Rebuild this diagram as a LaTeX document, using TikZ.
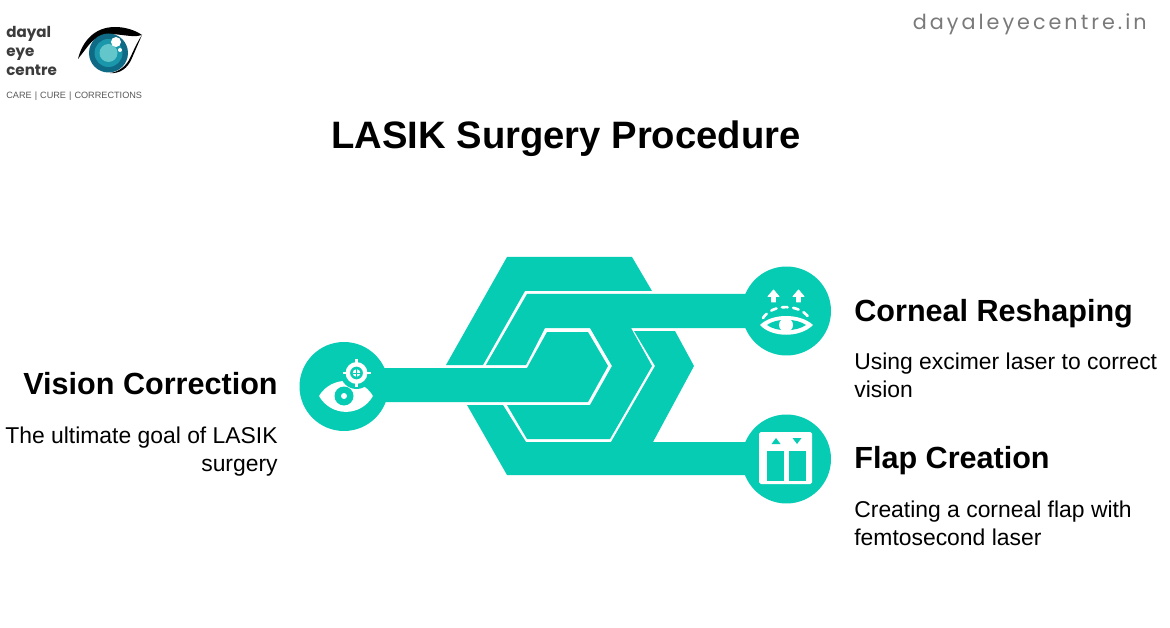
\documentclass[tikz,border=0pt]{standalone}
\usepackage{fontspec}
\setmainfont{Liberation Sans}
\newfontfamily\logofont{Poppins}
\newfontfamily\urlfont[LetterSpace=14.5]{Poppins}
\definecolor{tealfill}{HTML}{06CCB3}
\definecolor{irisdark}{HTML}{0F6A85}
\definecolor{irismid}{HTML}{1A97AB}
\definecolor{irislight}{HTML}{62C6CA}
\definecolor{logogray}{HTML}{3C3C3C}
\definecolor{urlgray}{HTML}{7A7A7A}
\tikzset{
  hubcircle/.style={circle,fill=tealfill,minimum size=17.8mm,inner sep=0pt},
  headtxt/.style={font=\bfseries\fontsize{17.4}{20}\selectfont,inner sep=0pt},
  bodytxt/.style={font=\fontsize{13.03}{15.6}\selectfont,inner sep=0pt},
  logotxt/.style={font=\logofont\bfseries\fontsize{8.6}{10}\selectfont,text=logogray,inner sep=0pt,anchor=base west},
  iconline/.style={white,line cap=round,line join=round}
}
\begin{document}
\begin{tikzpicture}[x=0.02cm,y=0.02cm]
\useasboundingbox (0,0) rectangle (1170,-628);
\fill [white] (0,0) rectangle (1170,-628);

\node [logotxt] (logoa) at (6,-38) {dayal};
\node [logotxt] (logob) at (6,-57) {eye};
\node [logotxt] (logoc) at (6,-76) {centre};
\node [inner sep=0pt,anchor=base west,text=logogray!85,font=\fontsize{5.2}{7}\selectfont] (tagline) at (6,-99) {CARE\,\,|\,\,CURE\,\,|\,\,CORRECTIONS};
\fill [black] (78,-59) .. controls (82,-42) and (94,-27) .. (115,-27) .. controls (125,-27) and (135,-30) .. (142,-35) .. controls (136,-37) and (130,-36) .. (122,-35) .. controls (108,-33) and (96,-35) .. (88,-46) -- cycle;
\fill [black] (142,-35) .. controls (136,-44) and (133,-52) .. (129,-60) .. controls (125,-67) and (118,-72) .. (110,-73) .. controls (120,-74) and (128,-68) .. (132,-58) -- cycle;
\fill [irisdark] (108.5,-53) circle (19.5);
\fill [irismid] (108.5,-53) circle (14);
\fill [irislight] (108.5,-53) circle (9);
\fill [white] (116,-42) circle (5);
\fill [white] (120,-50) circle (2);

\node [inner sep=0pt,anchor=base east,text=urlgray,font=\urlfont\fontsize{11.8}{15}\selectfont] (siteurl) at (1147,-30) {dayaleyecentre.in};
\node [inner sep=0pt,font=\bfseries\fontsize{21.75}{25}\selectfont,anchor=base] (title) at (566,-149) {LASIK Surgery Procedure};

\fill [tealfill] (507,-257) -- (632,-257) -- (652,-291) -- (525,-291) -- (483,-365) -- (446,-365) -- cycle;
\fill [tealfill] (486,-365) -- (527,-294) -- (786,-294) -- (786,-328) -- (631,-328) -- (652,-366) -- (610,-439) -- (527,-439) -- (507,-405) -- (590,-405) -- (612,-366) -- (590,-328) -- (545,-328) -- (526,-365) -- cycle;
\fill [tealfill] (343,-368) -- (527,-368) -- (547,-332) -- (588,-332) -- (608,-366) -- (588,-402) -- (343,-402) -- cycle;
\fill [tealfill] (467,-405) -- (503,-405) -- (526,-442) -- (611,-442) -- (655,-366) -- (634,-331) -- (675,-331) -- (694,-366) -- (653,-442) -- (786,-442) -- (786,-475) -- (507,-475) -- cycle;

\node [hubcircle] (vision) at (344,-386.5) {};
\node [hubcircle] (reshape) at (786.5,-311) {};
\node [hubcircle] (flap) at (786.5,-459) {};

% vision icon
\draw [iconline,fill=white,line width=1pt] (320,-396) .. controls (332,-377) and (360,-377) .. (372,-396) .. controls (360,-416) and (332,-416) .. cycle;
\fill [tealfill] (356.5,-373) circle (16);
\fill [tealfill] (344,-396) circle (9.5);
\fill [white] (344,-396) circle (3);
\draw [white,line width=2.5pt] (356.5,-373) circle (8.7);
\draw [white,line width=1.7pt] (356.5,-359) -- (356.5,-364) (356.5,-382) -- (356.5,-387) (342.5,-373) -- (347.5,-373) (365.5,-373) -- (370.5,-373);
\fill [white] (356.5,-373) circle (3.8);
\draw [tealfill,line width=0.5pt] (356.5,-369) -- (356.5,-377) (352.5,-373) -- (360.5,-373);

% reshaping icon
\draw [iconline,fill=white,line width=0.5pt] (773.5,-290) -- (779,-296.5) -- (775.5,-296.5) -- (775.5,-302) -- (771.5,-302) -- (771.5,-296.5) -- (768,-296.5) -- cycle;
\draw [iconline,fill=white,line width=0.5pt] (798.5,-290) -- (804,-296.5) -- (800.5,-296.5) -- (800.5,-302) -- (796.5,-302) -- (796.5,-296.5) -- (793,-296.5) -- cycle;
\draw [iconline,line width=1.5pt,dash pattern=on 3.2pt off 3.2pt] (763,-318) .. controls (772,-303.5) and (800,-303.5) .. (809,-318);
\fill [white] (760,-325) .. controls (772,-313) and (800,-313) .. (813,-325) .. controls (800,-338) and (772,-338) .. (760,-325);
\fill [tealfill] (767,-325) .. controls (776,-318) and (796,-318) .. (806,-325) .. controls (796,-332) and (776,-332) .. (767,-325);
\fill [white] (786,-325) circle (7);

% flap icon
\fill [white,rounded corners=1pt] (759,-432) rectangle (812,-484);
\fill [tealfill] (767,-451) rectangle (784,-481);
\fill [tealfill] (789,-451) rectangle (806,-481);
\fill [tealfill] (776,-438) -- (780.5,-444) -- (771.5,-444) -- cycle;
\fill [tealfill] (797,-444) -- (801.5,-438) -- (792.5,-438) -- cycle;

\node [headtxt,anchor=base east] (visionhead) at (278,-394) {Vision Correction};
\node [bodytxt,anchor=north east,align=right] (visionbody) at (278,-427) {The ultimate goal of LASIK\\surgery};
\node [headtxt,anchor=base west] (reshapehead) at (854,-321) {Corneal Reshaping};
\node [bodytxt,anchor=north west,align=left] (reshapebody) at (854,-353) {Using excimer laser to correct\\vision};
\node [headtxt,anchor=base west] (flaphead) at (854,-468) {Flap Creation};
\node [bodytxt,anchor=north west,align=left] (flapbody) at (854,-501) {Creating a corneal flap with\\femtosecond laser};
\end{tikzpicture}
\end{document}
